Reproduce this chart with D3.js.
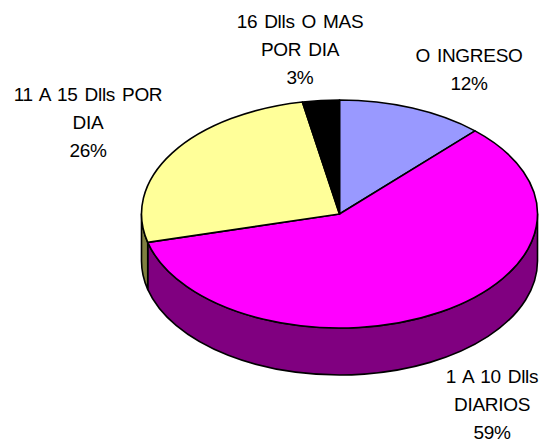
<!DOCTYPE html>
<html lang="es">
<head>
<meta charset="UTF-8">
<title>Ingreso diario</title>
<script src="https://d3js.org/d3.v7.min.js"></script>
<style>
  html, body { margin: 0; background: #fff; }
  svg { display: block; }
  text { font-family: "Liberation Sans", Arial, sans-serif; font-size: 19px; letter-spacing: -0.3px; word-spacing: 2px; fill: #000; }
  .edge { stroke: #000; stroke-width: 1.6px; stroke-linejoin: round; vector-effect: non-scaling-stroke; }
</style>
</head>
<body>
<svg id="chart" width="539" height="441"></svg>
<script>
// Data
const categories = ["O INGRESO", "1 A 10 Dlls DIARIOS", "11 A 15 Dlls POR DIA", "16 Dlls O MAS POR DIA"];
const shares = [12, 59, 26, 3];
const labelLines = [["O INGRESO"], ["1 A 10 Dlls", "DIARIOS"], ["11 A 15 Dlls POR", "DIA"], ["16 Dlls O MAS", "POR DIA"]];
const topColors = ["#9999ff", "#ff00ff", "#ffff99", "#000000"];
const sideColors = ["#4d4d80", "#800080", "#808040", "#000000"];

// Layout
const cx = 339.5, cy = 214, rx = 198, ry = 114, depth = 47;
const labelAnchors = [[469, 62], [492, 383], [88, 101], [300, 28]]; // centre x, first baseline
const lineGap = 28;

const svg = d3.select("#chart");

const slices = d3.pie().value(d => d).sort(null)(shares)
  .map((d, i) => ({ ...d, i }));

const px = a => cx + rx * Math.sin(a);
const py = a => cy - ry * Math.cos(a);

// Rim: only the part of each slice facing the viewer (90deg to 270deg)
const sides = svg.append("g");
slices.forEach(d => {
  const a0 = Math.max(d.startAngle, Math.PI / 2);
  const a1 = Math.min(d.endAngle, 3 * Math.PI / 2);
  if (a1 <= a0) return;
  sides.append("path")
    .attr("class", "edge")
    .attr("fill", sideColors[d.i])
    .attr("d", `M${px(a0)},${py(a0)}A${rx},${ry} 0 0 1 ${px(a1)},${py(a1)}` +
      `L${px(a1)},${py(a1) + depth}A${rx},${ry} 0 0 0 ${px(a0)},${py(a0) + depth}Z`);
});

// Top face: unit circle arcs squashed into the ellipse
const arc = d3.arc().innerRadius(0).outerRadius(100);
svg.append("g")
  .attr("transform", `translate(${cx},${cy}) scale(${rx / 100},${ry / 100})`)
  .selectAll("path")
  .data(slices)
  .join("path")
  .attr("class", "edge")
  .attr("fill", d => topColors[d.i])
  .attr("d", arc);

// Labels
const labels = svg.append("g").attr("text-anchor", "middle");
categories.forEach((c, i) => {
  const lines = [...labelLines[i], shares[i] + "%"];
  const [x, y] = labelAnchors[i];
  lines.forEach((line, j) => {
    labels.append("text").attr("x", x).attr("y", y + j * lineGap).text(line);
  });
});
</script>
</body>
</html>
